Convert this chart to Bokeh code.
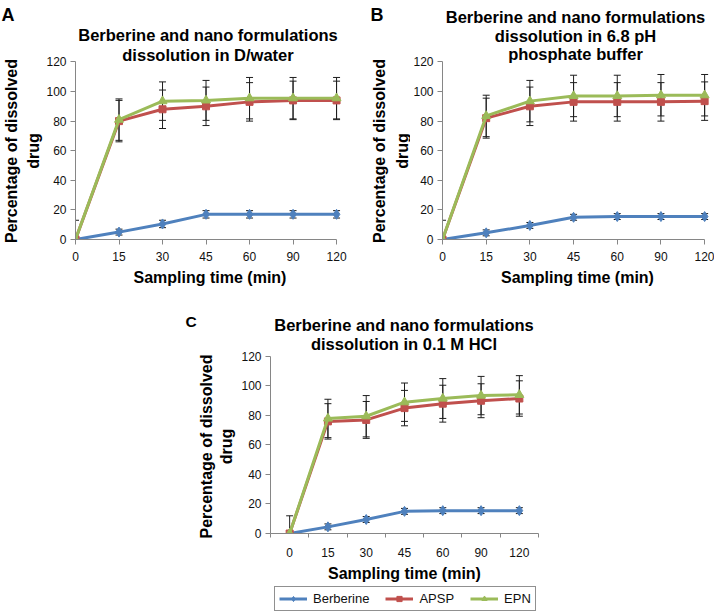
import math
from bokeh.plotting import figure
from bokeh.models import (Range1d, FixedTicker, Label, Whisker, TeeHead,
                          ColumnDataSource, Legend, LegendItem)
from bokeh.layouts import column, row
from bokeh.embed import file_html
from bokeh.resources import INLINE

# ---------------- data ----------------
times = ["0", "15", "30", "45", "60", "90", "120"]
series_names = ["Berberine", "APSP", "EPN"]

# A: D/water
water_berberine = [0, 5, 10.5, 17, 17, 17, 17]
water_berberine_err = [0, 2, 2.5, 2.5, 2.5, 2.5, 2.5]
water_apsp = [0, 80, 88, 90, 93, 94, 94]
water_apsp_err = [13, 14, 13, 13, 13, 13, 13]
water_epn = [0, 81, 93.5, 94, 95.5, 95.5, 95.5]
water_epn_err = [0, 14, 13, 13.5, 14, 14, 14]

# B: 6.8 pH phosphate buffer
buffer_berberine = [0, 4.5, 9.5, 15, 15.5, 15.5, 15.5]
buffer_berberine_err = [0, 2, 2, 2, 2, 2, 2]
buffer_apsp = [0, 82, 90, 93, 93, 93, 93.5]
buffer_apsp_err = [13, 13.5, 13, 13, 13, 13, 13]
buffer_epn = [0, 83.5, 93.5, 97, 97, 97.5, 97.5]
buffer_epn_err = [0, 14, 14, 14, 14, 14, 14]

# C: 0.1 M HCl
hcl_berberine = [0, 4.5, 9.5, 15, 15.5, 15.5, 15.5]
hcl_berberine_err = [0, 2, 2, 2, 2, 2, 2]
hcl_apsp = [0, 76, 77, 85, 88, 90, 91.5]
hcl_apsp_err = [12, 12, 12.5, 12, 12.5, 11.5, 12]
hcl_epn = [0, 78, 79.5, 89, 91.5, 93.5, 94]
hcl_epn_err = [0, 13, 14, 13, 13.5, 13, 13]

y_ticks = [0, 20, 40, 60, 80, 100, 120]

# ---------------- styles ----------------
FONT = "Liberation Sans"
AXIS_GRAY = "#868686"
ERR_COLOR = "#1e1e1e"
COLORS = ["#4F81BD", "#C0504D", "#9BBB59"]
MARKERS = ["diamond", "square", "triangle"]
SIZES = [10, 7, 9]
TITLE_SIZE = 16.5


def blank_fig(width, height, y_start=0):
    p = figure(width=width, height=height, x_axis_type=None, y_axis_type=None,
               x_range=Range1d(0, width), y_range=Range1d(y_start, y_start + height),
               min_border=0, toolbar_location=None, output_backend="svg",
               frame_align=False)
    p.title.text = ""
    p.outline_line_color = None
    p.background_fill_color = "white"
    p.border_fill_color = "white"
    return p


def main_fig(width, height, left, right, top, bottom, x_end, y_top):
    p = figure(width=width, height=height,
               x_range=Range1d(0, x_end), y_range=Range1d(0, y_top),
               min_border_left=left, min_border_right=right,
               min_border_top=top, min_border_bottom=bottom,
               toolbar_location=None, output_backend="svg", frame_align=False)
    p.title.text = ""
    p.grid.visible = False
    p.outline_line_color = None
    p.background_fill_color = "white"
    p.border_fill_color = "white"
    return p


def style_axes(p, x_ticks, x_minor, x_standoff, x_tick_out, x_bounds, label_standoff):
    xa = p.xaxis[0]
    ya = p.yaxis[0]
    xa.ticker = FixedTicker(ticks=x_ticks, minor_ticks=x_minor)
    xa.major_label_overrides = {t: lab for t, lab in zip(x_ticks, times)}
    xa.bounds = x_bounds
    xa.major_tick_out = x_tick_out
    xa.major_tick_in = 0
    xa.minor_tick_out = 4 if x_minor else 0
    xa.minor_tick_in = 0
    xa.major_label_standoff = x_standoff
    xa.axis_label = "Sampling time (min)"
    xa.axis_label_standoff = label_standoff
    xa.axis_label_text_font = FONT
    xa.axis_label_text_font_size = "16px"
    xa.axis_label_text_font_style = "bold"
    xa.axis_label_text_color = "black"
    ya.ticker = FixedTicker(ticks=y_ticks, minor_ticks=[])
    ya.bounds = (0, 120)
    ya.major_tick_out = 5
    ya.major_tick_in = 0
    ya.minor_tick_out = 0
    ya.minor_tick_in = 0
    ya.major_label_standoff = 4
    for ax in (xa, ya):
        ax.axis_line_color = AXIS_GRAY
        ax.axis_line_width = 1
        ax.major_tick_line_color = AXIS_GRAY
        ax.minor_tick_line_color = AXIS_GRAY
        ax.major_label_text_font = FONT
        ax.major_label_text_font_size = "12px"
        ax.major_label_text_color = "#111111"


def add_series(p, xs, ys_list, errs_list):
    for ys, errs in zip(ys_list, errs_list):
        wx = [x for x, e in zip(xs, errs) if e > 0]
        up = [y + e for y, e in zip(ys, errs) if e > 0]
        lo = [max(y - e, 0) for y, e in zip(ys, errs) if e > 0]
        src = ColumnDataSource(dict(x=wx, upper=up, lower=lo))
        p.add_layout(Whisker(source=src, base="x", upper="upper", lower="lower",
                             line_color=ERR_COLOR, line_width=1,
                             upper_head=TeeHead(size=7, line_color=ERR_COLOR, line_width=1),
                             lower_head=TeeHead(size=7, line_color=ERR_COLOR, line_width=1)))
    rends = []
    for ys, color, marker, size in zip(ys_list, COLORS, MARKERS, SIZES):
        ln = p.line(xs, ys, line_width=3, line_color=color)
        sc = p.scatter(xs, ys, marker=marker, size=size, fill_color=color, line_color=color)
        rends.append([ln, sc])
    return rends


def add_text(p, fl, fb, px, py, text, size, align="center", baseline="alphabetic", angle=0.0):
    # (px, py): position on the page; (fl, fb): page position of the frame's left / bottom
    p.add_layout(Label(x=px - fl, y=fb - py, x_units="screen", y_units="screen",
                       text=text, text_font=FONT, text_font_size=f"{size}px",
                       text_font_style="bold", text_align=align,
                       text_baseline=baseline, angle=angle, text_color="black"))


VERT = math.pi / 2
pos_ab = list(range(len(times)))
pos_c = [i + 0.5 for i in range(len(times))]
bounds_c = [i for i in range(len(times) + 1)]

# ---------------- top row (page y 0..298) ----------------
labA = blank_fig(43, 298)                       # page x 0..43
add_text(labA, 0, 298, 1, 14, "A", 18, align="left")
add_text(labA, 0, 298, 10.5, 150.5, "Percentage of dissolved", 16, baseline="middle", angle=VERT)
add_text(labA, 0, 298, 33, 150.5, "drug", 16, baseline="middle", angle=VERT)

pA = main_fig(314, 298, 30, 13, 0, 59, 6.1825, 161.5)   # frame page x 73..344, y 0..239
style_axes(pA, pos_ab, [], 7, 5, (0, 6), 5)
add_series(pA, pos_ab, [water_berberine, water_apsp, water_epn],
           [water_berberine_err, water_apsp_err, water_epn_err])
add_text(pA, 73, 239, 205.5, 34.5, "Berberine and nano formulations", TITLE_SIZE)
add_text(pA, 73, 239, 205.5, 54, "dissolution in D/water", TITLE_SIZE)

labB = blank_fig(53, 298)                       # page x 357..410
add_text(labB, 357, 298, 370, 14, "B", 18, align="left")
add_text(labB, 357, 298, 379, 150.5, "Percentage of dissolved", 16, baseline="middle", angle=VERT)
add_text(labB, 357, 298, 401.5, 150.5, "drug", 16, baseline="middle", angle=VERT)

pB = main_fig(304, 298, 30, 2, 0, 59, 6.18, 161.5)      # frame page x 440..712
style_axes(pB, pos_ab, [], 7, 5, (0, 6), 5)
add_series(pB, pos_ab, [buffer_berberine, buffer_apsp, buffer_epn],
           [buffer_berberine_err, buffer_apsp_err, buffer_epn_err])
add_text(pB, 440, 239, 573, 16, "Berberine and nano formulations", TITLE_SIZE)
add_text(pB, 440, 239, 573, 35, "dissolution in 6.8 pH", TITLE_SIZE)
add_text(pB, 440, 239, 573, 53.5, "phosphate buffer", TITLE_SIZE)

# ---------------- bottom row (page y 298..584) ----------------
labC = blank_fig(238, 286)                      # page x 0..238
add_text(labC, 0, 584, 185, 320.5, "C", 15.5, align="left")
add_text(labC, 0, 584, 205.5, 446, "Percentage of dissolved", 16, baseline="middle", angle=VERT)
add_text(labC, 0, 584, 225.5, 446, "drug", 16, baseline="middle", angle=VERT)

pC = main_fig(476, 286, 30, 176, 0, 49, 7, 159.3)     # frame page x 268..538, y 298..535
style_axes(pC, pos_c, bounds_c, 10, 0, (0, 7), 5)
add_series(pC, pos_c, [hcl_berberine, hcl_apsp, hcl_epn],
           [hcl_berberine_err, hcl_apsp_err, hcl_epn_err])
add_text(pC, 268, 535, 401.5, 326.5, "Berberine and nano formulations", TITLE_SIZE)
add_text(pC, 268, 535, 401.5, 345, "dissolution in 0.1 M HCl", TITLE_SIZE)

# ---------------- legend strip (page y 584..612) ----------------
# The strip's y range lies far away from the data, so its series renderers stay out of
# view and only serve as the legend's glyph samples.
foot = blank_fig(714, 28, y_start=-1000)
items = []
for name, color, marker, size, ys in zip(series_names, COLORS, MARKERS, SIZES,
                                        [hcl_berberine, hcl_apsp, hcl_epn]):
    ln = foot.line(x=pos_c, y=ys, line_width=3, line_color=color)
    sc = foot.scatter(x=pos_c, y=ys, marker=marker, size=size, fill_color=color, line_color=color)
    items.append(LegendItem(label=name, renderers=[ln, sc]))
legend = Legend(items=items, orientation="horizontal", location=(274, 1), margin=0,
                padding=4, spacing=16, label_standoff=6,
                glyph_width=28, glyph_height=13, label_height=13,
                label_text_font=FONT, label_text_font_size="13px",
                label_text_color="#111111",
                border_line_color="#222222", border_line_width=1,
                background_fill_color="white", background_fill_alpha=1.0)
foot.add_layout(legend)

layout = column(row(labA, pA, labB, pB), row(labC, pC), foot)
open("out.html", "w").write(file_html(layout, INLINE))
